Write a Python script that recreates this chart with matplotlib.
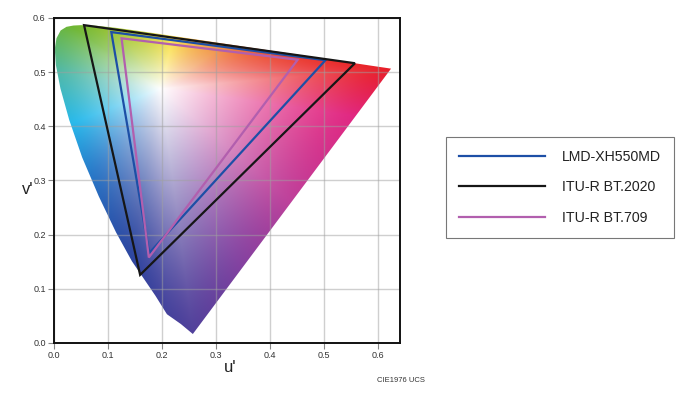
import numpy as np
import matplotlib
matplotlib.use("Agg")
import matplotlib.pyplot as plt
from matplotlib.patches import Polygon
from matplotlib.lines import Line2D

plt.rcParams['font.family'] = ['Liberation Sans', 'DejaVu Sans']

# Spectral locus (CIE 1976 u'v'), 380 nm -> 680 nm
locus_u = [0.2568, 0.2347, 0.2089, 0.1877, 0.1441, 0.1147, 0.0828, 0.0521, 0.0282,
           0.0119, 0.0035, 0.0014, 0.0046, 0.0123, 0.0231, 0.0360, 0.0501, 0.0792,
           0.1127, 0.1531, 0.2026, 0.2623, 0.3315, 0.4035, 0.4692, 0.5202, 0.5565,
           0.5830, 0.6005, 0.6109, 0.6234]
locus_v = [0.0166, 0.0350, 0.0531, 0.0871, 0.1510, 0.2044, 0.2708, 0.3427, 0.4117,
           0.4699, 0.5130, 0.5430, 0.5627, 0.5770, 0.5837, 0.5861, 0.5868, 0.5856,
           0.5821, 0.5766, 0.5694, 0.5605, 0.5501, 0.5393, 0.5296, 0.5219, 0.5165,
           0.5125, 0.5099, 0.5084, 0.5065]

# Gamut triangles (R, G, B) in u'v'
series_names = ["LMD-XH550MD", "ITU-R BT.2020", "ITU-R BT.709"]
lmd_u = [0.502, 0.106, 0.176]
lmd_v = [0.522, 0.574, 0.166]
bt2020_u = [0.5566, 0.0556, 0.1593]
bt2020_v = [0.5165, 0.5868, 0.1258]
bt709_u = [0.4507, 0.1250, 0.1754]
bt709_v = [0.5229, 0.5625, 0.1579]
series_colors = ["#1d4fa6", "#161616", "#b25fae"]

x_ticks = [0.0, 0.1, 0.2, 0.3, 0.4, 0.5, 0.6]
y_ticks = [0.0, 0.1, 0.2, 0.3, 0.4, 0.5, 0.6]

# hue palette for the fill: angle (deg) around the white point -> colour
white_u, white_v = 0.1978, 0.4683
hue_angles = [-159, -129, -100, -83, -66, -41, -8, 5, 34, 77, 125, 145, 171]
hue_colors = np.array([[40, 185, 235], [40, 120, 200], [45, 70, 160], [80, 65, 155],
                       [130, 65, 160], [190, 65, 155], [225, 40, 130], [232, 30, 40],
                       [240, 140, 60], [250, 224, 72], [170, 200, 50], [110, 182, 50],
                       [80, 185, 170]]) / 255.0

fig = plt.figure(figsize=(6.9, 4.04), dpi=100)
ax = fig.add_axes([54/690, 1-343/404, (400-54)/690, (343-18)/404])
ax.set_xlim(0, 0.64)
ax.set_ylim(0, 0.6)

# distance from white point to the locus boundary, per direction
P = np.column_stack([locus_u, locus_v])
A = P
B = np.roll(P, -1, axis=0)
th = np.radians(np.linspace(-180, 180, 1441))
dx, dy = np.cos(th)[:, None], np.sin(th)[:, None]
ex, ey = (B - A)[:, 0][None, :], (B - A)[:, 1][None, :]
wx, wy = (A[:, 0] - white_u)[None, :], (A[:, 1] - white_v)[None, :]
den = dx*ey - dy*ex
den = np.where(np.abs(den) < 1e-12, 1e-12, den)
s_ray = (wx*ey - wy*ex) / den
t_edge = (wx*dy - wy*dx) / den
ok = (t_edge >= -1e-9) & (t_edge <= 1 + 1e-9) & (s_ray > 0)
R_ang = np.where(ok, s_ray, np.inf).min(axis=1)

# chromaticity colour background
N = 500
uu, vv = np.meshgrid(np.linspace(0, 0.64, N), np.linspace(0, 0.6, N))
ang = np.degrees(np.arctan2(vv - white_v, uu - white_u))
rad = np.hypot(uu - white_u, vv - white_v)
sat = rad / np.interp(ang, np.degrees(th), R_ang)
white_w = np.clip(1 - sat, 0, 1) ** 1.3

col = np.stack([np.interp(ang, hue_angles, hue_colors[:, k], period=360) for k in range(3)], axis=-1)
col = col * (1 - white_w)[..., None] + white_w[..., None]
col = np.clip(col, 0, 1)

im = ax.imshow(col, extent=(0, 0.64, 0, 0.6), origin='lower', aspect='auto',
               interpolation='bilinear', zorder=0)
poly = Polygon(P, closed=True, transform=ax.transData, facecolor='none', edgecolor='none')
ax.add_patch(poly)
im.set_clip_path(poly)

ax.grid(True, color='#a0a0a0', alpha=0.5, lw=1.0, zorder=1)

tri_u = [lmd_u, bt2020_u, bt709_u]
tri_v = [lmd_v, bt2020_v, bt709_v]
handles = []
for name, tu, tv, c in zip(series_names, tri_u, tri_v, series_colors):
    ax.add_patch(Polygon(np.column_stack([tu, tv]), closed=True, fill=False,
                         edgecolor=c, lw=1.6, joinstyle='miter', zorder=3))
    handles.append(Line2D([], [], color=c, lw=1.6))

ax.set_xticks(x_ticks)
ax.set_yticks(y_ticks)
ax.set_xticklabels([f"{t:.1f}" for t in x_ticks])
ax.set_yticklabels([f"{t:.1f}" for t in y_ticks])
ax.tick_params(labelsize=6.5, colors='#888888', labelcolor='#333333', length=4, width=0.8, pad=2)
for s in ax.spines.values():
    s.set_color('#111111')
    s.set_linewidth(1.4)

fig.text(28/690, 1-190/404, "v'", fontsize=12, ha='center', va='center', color='#222222')
fig.text(230/690, 1-367/404, "u'", fontsize=12, ha='center', va='center', color='#222222')
fig.text(401/690, 1-381/404, "CIE1976 UCS", fontsize=5.5, ha='center', va='center', color='#333333')

leg = fig.legend(handles, series_names, loc='upper left',
                 bbox_to_anchor=(446/690, 1-137/404), bbox_transform=fig.transFigure,
                 fontsize=10.2, handlelength=6.1, handletextpad=1.2, borderpad=0.9,
                 labelspacing=1.17, frameon=True, fancybox=False, borderaxespad=0)
leg.get_frame().set_edgecolor('#555555')
leg.get_frame().set_linewidth(0.8)
for t in leg.get_texts():
    t.set_color('#222222')

fig.savefig("out.png", dpi=100)
